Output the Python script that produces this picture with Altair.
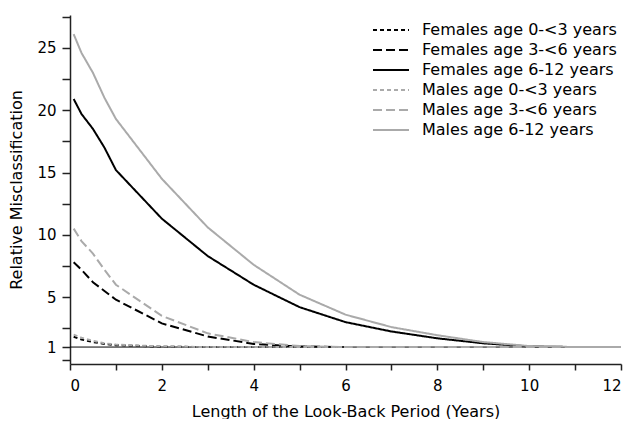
import altair as alt
import pandas as pd

# Look-back period (years)
xs = [0.08, 0.25, 0.5, 0.75, 1, 2, 3, 4, 5, 6, 7, 8, 9, 10, 11, 12]

series_names = [
    "Females age 0-<3 years",
    "Females age 3-<6 years",
    "Females age 6-12 years",
    "Males age 0-<3 years",
    "Males age 3-<6 years",
    "Males age 6-12 years",
]

f_0_3 = [1.83, 1.6, 1.4, 1.25, 1.15, 1.03, 1.0, 1.0, 1.0, 1.0]
f_3_6 = [7.8, 7.2, 6.2, 5.5, 4.8, 2.9, 1.85, 1.25, 1.05, 1.0]
f_6_12 = [20.9, 19.7, 18.5, 17.0, 15.2, 11.3, 8.3, 6.0, 4.2, 3.0, 2.25, 1.7, 1.3, 1.05, 1.0]
m_0_3 = [2.0, 1.75, 1.5, 1.3, 1.2, 1.05, 1.0, 1.0, 1.0, 1.0]
m_3_6 = [10.5, 9.5, 8.5, 7.2, 6.0, 3.5, 2.1, 1.4, 1.08, 1.0, 1.0, 1.0, 1.0, 1.0, 1.0]
m_6_12 = [26.1, 24.6, 23.0, 21.0, 19.3, 14.5, 10.6, 7.6, 5.2, 3.6, 2.6, 1.95, 1.4, 1.08, 1.0, 1.0]

all_values = [f_0_3, f_3_6, f_6_12, m_0_3, m_3_6, m_6_12]
colors = ["#000000", "#000000", "#000000", "#aaaaaa", "#aaaaaa", "#aaaaaa"]
dashes = [[4, 3], [9, 4], [1, 0], [4, 3], [9, 4], [1, 0]]

y_ticks = [0, 1, 2.5, 5, 7.5, 10, 12.5, 15, 17.5, 20, 22.5, 25, 27.5]
x_ticks = list(range(13))

rows = []
for name, vals in zip(series_names, all_values):
    for i, v in enumerate(vals):
        rows.append({"series": name, "x": xs[i], "y": v, "order": i})
df = pd.DataFrame(rows)

ref = pd.DataFrame({"x": [0], "x2": [12], "y": [1]})

font = "DejaVu Sans"

xscale = alt.Scale(domain=[0, 12], nice=False, zero=False)
yscale = alt.Scale(domain=[-0.36, 27.64], nice=False, zero=False)

x_axis = alt.Axis(
    values=x_ticks,
    labelExpr="datum.value % 2 == 0 ? datum.label : ''",
    grid=False,
    tickSize=6,
    labelPadding=8,
    titlePadding=10,
    labelOverlap=False,
)
y_axis = alt.Axis(
    values=y_ticks,
    labelExpr="(datum.value == 1 || (datum.value % 5 == 0 && datum.value > 0)) ? datum.label : ''",
    grid=False,
    tickSize=8,
    labelPadding=6,
    titlePadding=12,
    labelOverlap=False,
)

rule = alt.Chart(ref).mark_rule(color="#000000", strokeWidth=1).encode(
    x=alt.X("x:Q", scale=xscale, axis=x_axis, title="Length of the Look-Back Period (Years)"),
    x2="x2:Q",
    y=alt.Y("y:Q", scale=yscale, axis=y_axis, title="Relative Misclassification"),
)

lines = alt.Chart(df).mark_line(strokeWidth=2, strokeCap="butt").encode(
    x=alt.X("x:Q", scale=xscale, axis=x_axis, title="Length of the Look-Back Period (Years)"),
    y=alt.Y("y:Q", scale=yscale, axis=y_axis, title="Relative Misclassification"),
    color=alt.Color(
        "series:N",
        scale=alt.Scale(domain=series_names, range=colors),
        sort=series_names,
        legend=alt.Legend(
            title=None,
            orient="none",
            legendX=311,
            legendY=5,
            symbolType="M-2,0H2",
            symbolSize=324,
            symbolStrokeWidth=2,
            labelFontSize=16,
            labelFont=font,
            labelColor="#000000",
            labelLimit=400,
            rowPadding=2,
            labelOffset=21,
        ),
    ),
    strokeDash=alt.StrokeDash(
        "series:N",
        scale=alt.Scale(domain=series_names, range=dashes),
        sort=series_names,
        legend=alt.Legend(title=None),
    ),
    order="order:Q",
)

chart = (
    alt.layer(rule, lines)
    .properties(
        width=617,
        height=411,
        autosize=alt.AutoSizeParams(type="fit", contains="padding"),
        padding={"left": 0, "top": 2, "right": 0, "bottom": 0},
    )
    .configure_view(stroke=None)
    .configure_axis(
        labelFont=font,
        titleFont=font,
        labelFontSize=15,
        titleFontSize=16,
        titleFontWeight="normal",
        labelColor="#000000",
        titleColor="#000000",
        domainColor="#222222",
        tickColor="#222222",
        domainWidth=1.5,
        tickWidth=1.5,
    )
)

chart.save("out.html", embed_options={"renderer": "svg", "actions": False})
